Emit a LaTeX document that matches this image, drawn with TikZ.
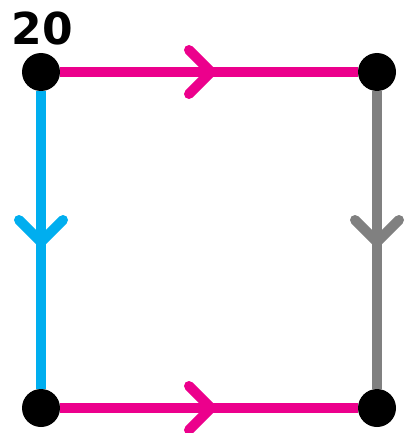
\documentclass[tikz,border=0pt]{standalone}
\usepackage{fontspec}
\setmainfont{DejaVu Sans}
\usetikzlibrary{decorations.markings}
\definecolor{colMagenta}{RGB}{236,0,140}
\definecolor{colCyan}{RGB}{0,174,239}
\definecolor{colGris}{RGB}{128,128,128}

\begin{document}
\begin{tikzpicture}[x=1pt, y=1pt,
    pt/.style={circle, fill=black, minimum size=38pt, inner sep=0pt},
    flow/.style={line width=10pt,
      postaction={decorate},
      decoration={markings, mark=at position 0.5 with {
        \draw[line width=10pt, line cap=round, line join=round]
          (-20,22) -- (2,0) -- (-20,-22);}}}]
    \useasboundingbox (0,0) rectangle (405,-433);
    \node[pt] (tl) at (41,-72) {};
    \node[pt] (tr) at (377,-72) {};
    \node[pt] (bl) at (41,-408) {};
    \node[pt] (br) at (377,-408) {};
    \node[font=\fontsize{44}{44}\selectfont\bfseries] (lab) at (42,-28) {20};
    \draw[flow, colMagenta] (tl) -- (tr);
    \draw[flow, colCyan]    (tl) -- (bl);
    \draw[flow, colGris]    (tr) -- (br);
    \draw[flow, colMagenta] (bl) -- (br);
  \end{tikzpicture}
\end{document}
